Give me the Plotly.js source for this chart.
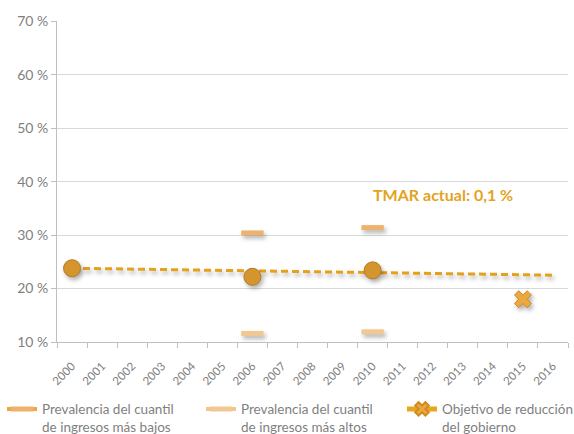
<!DOCTYPE html>
<html>
<head>
<meta charset="utf-8">
<script src="https://cdn.plot.ly/plotly-3.0.1.min.js"></script>
<style>
  html, body { margin: 0; padding: 0; background: #ffffff; }
  #chart { width: 574px; height: 434px; }
</style>
</head>
<body>
<div id="chart"></div>
<script>
// ---- data ----
const years = ['2000','2001','2002','2003','2004','2005','2006','2007','2008','2009','2010','2011','2012','2013','2014','2015','2016'];
const prevalenceTotal = [23.8, null, null, null, null, null, 22.2, null, null, null, 23.4, null, null, null, null, null, null];
const prevalenceLowIncome = [null, null, null, null, null, null, 30.4, null, null, null, 31.4, null, null, null, null, null, null];
const prevalenceHighIncome = [null, null, null, null, null, null, 11.6, null, null, null, 11.9, null, null, null, null, null, null];
const governmentTarget = [null, null, null, null, null, null, null, null, null, null, null, null, null, null, null, 18.0, null];
const trendYears = ['2000', '2016'];
const trendValues = [23.8, 22.5];
const yTickValues = [10, 20, 30, 40, 50, 60, 70];
const yTickLabels = ['10 %', '20 %', '30 %', '40 %', '50 %', '60 %', '70 %'];
const legendNames = [
  'Prevalencia del cuantil<br>de ingresos más bajos',
  'Prevalencia del cuantil<br>de ingresos más altos',
  'Objetivo de reducción<br>del gobierno'
];
const annotationText = 'TMAR actual: 0,1 %';

const FONT = 'Lato, "Open Sans", sans-serif';

const traces = [
  {
    x: trendYears, y: trendValues, type: 'scatter', mode: 'lines',
    line: { color: '#E6A11A', width: 3, dash: '7px,4px' },
    showlegend: false, hoverinfo: 'skip'
  },
  {
    x: years, y: prevalenceTotal, type: 'scatter', mode: 'markers',
    marker: { symbol: 'circle', size: 17, color: '#D4952F', line: { color: '#B57B22', width: 1 } },
    showlegend: false
  },
  {
    x: years, y: prevalenceLowIncome, type: 'scatter', mode: 'lines+markers',
    name: legendNames[0], connectgaps: false, legend: 'legend',
    line: { color: '#EBA643', width: 4 },
    marker: { symbol: 'line-ew', size: 16, color: '#EDB36C', line: { color: '#EDB36C', width: 5 } }
  },
  {
    x: years, y: prevalenceHighIncome, type: 'scatter', mode: 'lines+markers',
    name: legendNames[1], connectgaps: false, legend: 'legend2',
    line: { color: '#F3C68E', width: 4 },
    marker: { symbol: 'line-ew', size: 16, color: '#F1C792', line: { color: '#F1C792', width: 5 } }
  },
  {
    x: years, y: governmentTarget, type: 'scatter', mode: 'lines+markers',
    name: legendNames[2], connectgaps: false, legend: 'legend3',
    line: { color: '#E8A520', width: 4 },
    marker: { symbol: 'x', size: 15, color: '#EBA83F', line: { color: '#D08A20', width: 1 } }
  }
];

function legendAt(xpx, sizing) {
  return {
    orientation: 'h', xref: 'container', yref: 'container',
    x: xpx / 574, xanchor: 'left', y: 0.093, yanchor: 'top',
    valign: 'top', itemsizing: sizing,
    font: { family: FONT, size: 13.5, color: '#7F7F7F' },
    bgcolor: 'rgba(0,0,0,0)', itemclick: false, itemdoubleclick: false
  };
}

const layout = {
  width: 574, height: 434,
  margin: { l: 57, r: 6, t: 21, b: 92, autoexpand: false },
  paper_bgcolor: '#ffffff', plot_bgcolor: '#ffffff',
  font: { family: FONT, color: '#7F7F7F', size: 14 },
  xaxis: {
    type: 'category', categoryorder: 'array', categoryarray: years,
    range: [-0.5, years.length - 0.5],
    tickson: 'boundaries', ticks: 'outside', ticklen: 5, tickcolor: '#BFBFBF',
    ticklabelstandoff: 12,
    showgrid: false, showline: true, linecolor: '#BFBFBF', linewidth: 1,
    tickangle: -45, tickfont: { family: FONT, size: 11.5, color: '#7F7F7F' },
    zeroline: false, fixedrange: true, automargin: false
  },
  yaxis: {
    range: [10, 70.05], tickvals: yTickValues, ticktext: yTickLabels,
    ticks: 'outside', ticklen: 5, tickcolor: '#BFBFBF',
    showgrid: true, gridcolor: '#D9D9D9', gridwidth: 1,
    showline: true, linecolor: '#BFBFBF', linewidth: 1,
    tickfont: { family: FONT, size: 14, color: '#7F7F7F' },
    zeroline: false, fixedrange: true, automargin: false
  },
  legend: legendAt(2, 'trace'),
  legend2: legendAt(201, 'trace'),
  legend3: legendAt(402, 'constant'),
  annotations: [{
    text: '<b>' + annotationText + '</b>', xref: 'paper', yref: 'paper',
    x: 0.755, y: 0.458, xanchor: 'center', yanchor: 'middle', showarrow: false,
    font: { family: FONT, size: 16, color: '#E3A322' }
  }],
  showlegend: true
};

Plotly.newPlot('chart', traces, layout, { displayModeBar: false, staticPlot: true }).then(function () {
  document.querySelectorAll('.scatterlayer .trace').forEach(function (g) {
    g.style.filter = 'drop-shadow(2px 3px 2px rgba(0,0,0,0.3))';
  });
});
</script>
</body>
</html>
